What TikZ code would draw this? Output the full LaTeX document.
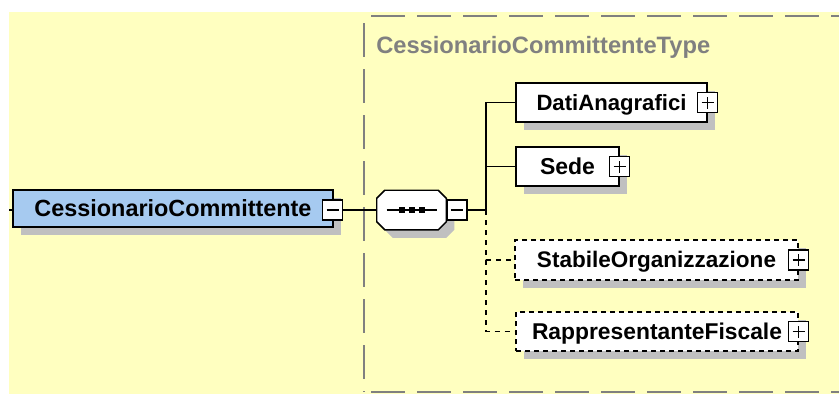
\documentclass[tikz,border=0pt]{standalone}
\usepackage{fontspec}
\setmainfont{Liberation Sans}
\usetikzlibrary{shadows}
\definecolor{bgyellow}{RGB}{255,255,192}
\definecolor{elblue}{RGB}{166,202,240}
\definecolor{shgray}{RGB}{192,192,192}
\definecolor{tgray}{RGB}{128,128,128}
\newcommand{\lbl}[2]{\resizebox{#1pt}{!}{\bfseries #2}}
\begin{document}
\begin{tikzpicture}[x=0.75pt,y=-0.75pt,
  shad/.style={drop shadow={shadow xshift=6pt,shadow yshift=-6pt,fill=shgray,opacity=1}},
  elem/.style={draw=black,line width=1.1pt,fill=white,minimum height=29.25pt,
    inner sep=0pt,text height=11.25pt,text depth=0pt,shad},
  optelem/.style={elem,dash pattern=on 3.75pt off 3pt},
  expbox/.style={draw=black,line width=1pt,fill=white,minimum width=15pt,minimum height=15pt,inner sep=0pt},
  minusx/.style={expbox,path picture={\draw[line width=1pt]
      ([xshift=-4.5pt]path picture bounding box.center) -- ++(9pt,0);}},
  plusx/.style={expbox,path picture={\draw[line width=1pt]
      ([xshift=-4.5pt]path picture bounding box.center) -- ++(9pt,0)
      ([yshift=-4.5pt]path picture bounding box.center) -- ++(0,9pt);}},
  conn/.style={draw=black,line width=1pt},
  optconn/.style={conn,dash pattern=on 4pt off 3.5pt},
  frame/.style={draw=tgray,line width=1pt,dash pattern=on 25.5pt off 9pt,dash phase=29.25pt},
  compo/.style={draw=black,line width=1.1pt,fill=white,shad},
  dot/.style={fill=black}
]
\useasboundingbox (0,0) rectangle (839,394);
% background
\fill[bgyellow] (9,12) rectangle (839,394);
% complex type frame
\draw[frame] (364,16) -- (839,16);
\draw[frame] (364,16) -- (364,392);
\draw[frame] (364,392) -- (839,392);
\node[anchor=base west,inner sep=0pt,text=tgray] (typename) at (376,53)
  {\lbl{250.5}{CessionarioCommittenteType}};

% main element
\node[elem,fill=elblue,minimum width=240pt,minimum height=27.75pt] (main) at (173,208.5)
  {\lbl{207.75}{CessionarioCommittente}\hspace{9.75pt}};
\node[minusx] (mainx) at (332.5,210) {};

% sequence compositor
\node[minimum width=51.75pt,minimum height=29.25pt,inner sep=0pt] (seq) at (411.5,210) {};
\path[compo] ([xshift=6pt]seq.north west) -- ([xshift=-6pt]seq.north east)
  -- ([yshift=-6pt]seq.north east) -- ([yshift=6pt]seq.south east)
  -- ([xshift=-6pt]seq.south east) -- ([xshift=6pt]seq.south west)
  -- ([yshift=6pt]seq.south west) -- ([yshift=-6pt]seq.north west) -- cycle;
\draw[line width=1pt] ([xshift=-18.75pt]seq.center) -- ([xshift=18.75pt]seq.center);
\fill[dot] ([shift={(-9.75pt,-2.25pt)}]seq.center) rectangle ++(4.5pt,4.5pt);
\fill[dot] ([shift={(-2.25pt,-2.25pt)}]seq.center) rectangle ++(4.5pt,4.5pt);
\fill[dot] ([shift={(5.25pt,-2.25pt)}]seq.center) rectangle ++(4.5pt,4.5pt);
\node[minusx,anchor=west] (seqx) at (seq.east) {};

% children
\node[elem,minimum width=143.25pt] (dati) at (611.5,102.5)
  {\lbl{112.5}{DatiAnagrafici}\hspace{5.25pt}};
\node[plusx] (datix) at (dati.east) {};
\node[elem,minimum width=77.25pt] (sede) at (567.5,166.5)
  {\lbl{41.25}{Sede}\hspace{10.5pt}};
\node[plusx] (sedex) at (sede.east) {};
\node[optelem,minimum width=212.25pt,minimum height=30pt] (stab) at (656.5,260)
  {\lbl{179.25}{StabileOrganizzazione}\hspace{6pt}};
\node[plusx] (stabx) at (stab.east) {};
\node[optelem,minimum width=211.5pt] (rapp) at (657,331.5)
  {\lbl{187.5}{RappresentanteFiscale}};
\node[plusx] (rappx) at (rapp.east) {};

% connectors
\coordinate (stub) at (9,210);
\coordinate (jn) at (486,210);
\draw[conn] (stub) -- (stub -| main.west);
\draw[conn] (mainx.east) -- (seq.west);
\draw[conn] (seqx.east) -- (jn);
\draw[conn] (jn) |- (dati.west);
\draw[conn] (jn) |- (sede.west);
\draw[optconn] (jn) |- (stab.west);
\draw[optconn] (jn) |- (rapp.west);
\end{tikzpicture}
\end{document}
